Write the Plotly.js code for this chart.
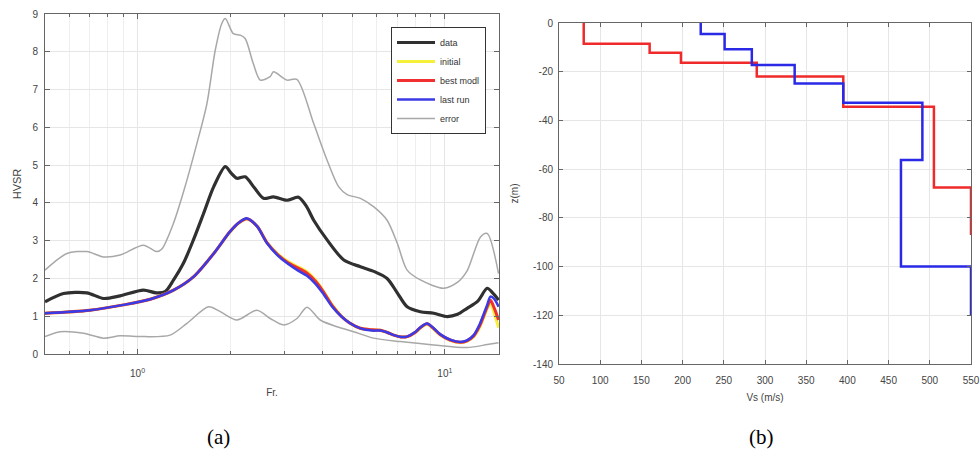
<!DOCTYPE html>
<html>
<head>
<meta charset="utf-8">
<script src="https://cdn.plot.ly/plotly-3.0.1.min.js"></script>
<style>
  html, body { margin: 0; padding: 0; background: #ffffff; }
  #chart { width: 980px; height: 462px; }
</style>
</head>
<body>
<div id="chart"></div>
<script>
// ---------- (a) HVSR curves ----------
const dataFreq = [0.50,0.574,0.684,0.775,0.878,1.045,1.15,1.23,1.31,1.41,1.52,1.64,1.77,1.93,2.02,2.105,2.24,2.40,2.571,2.77,3.065,3.342,3.55,3.743,4.138,4.689,5.311,5.9,6.486,7.0,7.537,8.322,9.2,10.17,11.0,11.81,12.8,13.73,14.3,14.95];
const dataHVSR = [1.38,1.60,1.62,1.47,1.54,1.69,1.62,1.65,1.96,2.40,3.02,3.72,4.43,4.96,4.78,4.65,4.69,4.40,4.12,4.16,4.07,4.15,3.90,3.54,3.02,2.49,2.31,2.18,2.00,1.62,1.25,1.12,1.08,0.99,1.05,1.21,1.40,1.74,1.62,1.43];

const errUpFreq = [0.50,0.589,0.684,0.775,0.878,1.045,1.156,1.20,1.309,1.41,1.56,1.682,1.79,1.88,1.93,2.05,2.16,2.24,2.38,2.508,2.70,2.77,3.065,3.30,3.743,4.138,4.51,4.81,5.311,5.86,6.486,7.0,7.537,8.322,9.91,11.0,11.81,13.06,13.73,14.95];
const errUpHVSR = [2.22,2.66,2.71,2.57,2.62,2.88,2.71,2.78,3.46,4.28,5.57,6.63,8.04,8.75,8.88,8.48,8.44,8.35,7.69,7.25,7.34,7.47,7.25,7.27,6.10,5.13,4.43,4.22,4.12,3.90,3.54,2.93,2.22,1.96,1.74,1.90,2.20,3.10,3.19,2.13];

const errLoFreq = [0.50,0.56,0.667,0.775,0.878,1.045,1.276,1.448,1.703,1.858,2.105,2.447,2.703,2.988,3.302,3.56,3.93,4.46,5.05,5.86,7.16,9.20,11.81,13.73,14.95];
const errLoHVSR = [0.46,0.59,0.55,0.42,0.48,0.46,0.50,0.81,1.25,1.12,0.90,1.16,0.94,0.77,0.94,1.24,0.90,0.72,0.59,0.42,0.33,0.24,0.17,0.25,0.30];

const fitFreq = [0.50,0.70,0.90,1.10,1.31,1.52,1.77,2.00,2.14,2.27,2.45,2.64,2.85,3.07,3.34,3.56,3.80,4.00,4.30,4.60,4.90,5.31,5.80,6.17,6.50,6.82,7.20,7.54,8.00,8.30,8.75,9.20,9.67,10.40,11.24,11.80,12.41,13.00,13.39,13.73,14.07,14.50,14.95];
const initialHVSR = [1.08,1.16,1.30,1.45,1.69,2.04,2.66,3.23,3.47,3.57,3.38,2.95,2.66,2.46,2.30,2.18,1.95,1.70,1.30,1.01,0.82,0.68,0.64,0.63,0.57,0.50,0.45,0.46,0.57,0.68,0.79,0.66,0.50,0.36,0.30,0.34,0.46,0.72,0.98,1.20,1.35,1.05,0.70];
const bestHVSR = [1.08,1.16,1.30,1.45,1.69,2.04,2.66,3.24,3.48,3.58,3.38,2.94,2.64,2.43,2.27,2.14,1.92,1.68,1.28,1.00,0.82,0.68,0.64,0.63,0.57,0.50,0.45,0.46,0.57,0.69,0.80,0.67,0.51,0.37,0.31,0.35,0.48,0.76,1.02,1.25,1.42,1.20,0.90];
const lastHVSR = [1.08,1.16,1.30,1.45,1.69,2.04,2.66,3.24,3.48,3.59,3.38,2.93,2.62,2.40,2.20,2.07,1.85,1.62,1.25,1.00,0.82,0.68,0.62,0.62,0.57,0.50,0.45,0.46,0.58,0.70,0.81,0.68,0.52,0.38,0.32,0.36,0.50,0.80,1.07,1.30,1.52,1.45,1.25];

const freqTickVals = [1, 10];
const freqTickText = ['10<sup>0</sup>', '10<sup>1</sup>'];
const freqMinorVals = [0.5,0.6,0.7,0.8,0.9,2,3,4,5,6,7,8,9];
const hvsrTickVals = [0,1,2,3,4,5,6,7,8,9];

// ---------- (b) Vs profiles ----------
const bestVs = [80,160,198,290,395,505,550];
const bestTop = [0,-8.5,-12.2,-16.3,-22,-34.4,-67.5];
const bestBottom = -87;
const lastVs = [222,251,284,336,395,491,465,550];
const lastTop = [0,-4.5,-10.8,-17.2,-24.8,-32.7,-56.2,-100];
const lastBottom = -120;

const vsTickVals = [50,100,150,200,250,300,350,400,450,500,550];
const zTickVals = [0,-20,-40,-60,-80,-100,-120,-140];
const zTickText = ['0','-20','-40','-60','-80','-100','-120','-140'];

// build step paths: vertical within a layer, horizontal at interfaces
function stepPath(vs, tops, bottom) {
  const xs = [], ys = [];
  for (let i = 0; i < vs.length; i++) {
    const b = (i < vs.length - 1) ? tops[i + 1] : bottom;
    xs.push(vs[i], vs[i]);
    ys.push(tops[i], b);
  }
  return {x: xs, y: ys};
}
const bestPath = stepPath(bestVs, bestTop, bestBottom);
const lastPath = stepPath(lastVs, lastTop, lastBottom);

const W = 980, H = 462;
const FAM = 'Liberation Sans, Arial, sans-serif';
const tickFont = {family: FAM, size: 10, color: '#444'};
const gridC = '#e6e6e6';
const lineC = '#666';

const traces = [
  {x: errUpFreq, y: errUpHVSR, name: 'error', legendgroup: 'err', legendrank: 5, mode: 'lines',
   line: {color: '#a8a8a8', width: 1.5, shape: 'spline', smoothing: 0.8}, xaxis: 'x', yaxis: 'y'},
  {x: errLoFreq, y: errLoHVSR, name: 'error', legendgroup: 'err', showlegend: false, mode: 'lines',
   line: {color: '#a8a8a8', width: 1.5, shape: 'spline', smoothing: 0.8}, xaxis: 'x', yaxis: 'y'},
  {x: dataFreq, y: dataHVSR, name: 'data', legendrank: 1, mode: 'lines',
   line: {color: '#303030', width: 3.2, shape: 'spline', smoothing: 0.8}, xaxis: 'x', yaxis: 'y'},
  {x: fitFreq, y: initialHVSR, name: 'initial', legendrank: 2, mode: 'lines',
   line: {color: '#f5f03c', width: 3, shape: 'spline', smoothing: 0.8}, xaxis: 'x', yaxis: 'y'},
  {x: fitFreq, y: bestHVSR, name: 'best modl', legendrank: 3, mode: 'lines',
   line: {color: '#f03030', width: 3, shape: 'spline', smoothing: 0.8}, xaxis: 'x', yaxis: 'y'},
  {x: fitFreq, y: lastHVSR, name: 'last run', legendrank: 4, mode: 'lines',
   line: {color: '#3a3ae6', width: 2.5, shape: 'spline', smoothing: 0.8}, xaxis: 'x', yaxis: 'y'},
  {x: bestPath.x, y: bestPath.y, name: 'best model Vs', showlegend: false, mode: 'lines',
   line: {color: '#f02a2a', width: 2.5}, xaxis: 'x2', yaxis: 'y2'},
  {x: lastPath.x, y: lastPath.y, name: 'last run Vs', showlegend: false, mode: 'lines',
   line: {color: '#2a2ae6', width: 2.5}, xaxis: 'x2', yaxis: 'y2'}
];

const layout = {
  width: W, height: H,
  margin: {l: 0, r: 0, t: 0, b: 0},
  paper_bgcolor: '#ffffff', plot_bgcolor: '#ffffff',
  font: tickFont,
  showlegend: true,
  legend: {x: 486 / W, xanchor: 'right', y: 1 - 27 / H, yanchor: 'top',
           bgcolor: '#ffffff', bordercolor: '#333', borderwidth: 1,
           font: {family: FAM, size: 9, color: '#333'},
           tracegroupgap: 0, itemwidth: 38},
  xaxis: {type: 'log', range: [Math.log10(0.5), Math.log10(15)], domain: [45 / W, 499 / W],
          anchor: 'y', tickvals: freqTickVals, ticktext: freqTickText, ticklabelstandoff: 10,
          ticks: 'inside', ticklen: 5, tickcolor: lineC, mirror: 'allticks', showline: true,
          linecolor: lineC, linewidth: 1, showgrid: true, gridcolor: gridC, zeroline: false,
          minor: {tickvals: freqMinorVals, ticks: 'inside', ticklen: 3, tickcolor: lineC,
                  showgrid: true, gridcolor: '#eeeeee'},
          tickfont: tickFont,
          title: {text: 'Fr.', font: {family: FAM, size: 10, color: '#444'}, standoff: 10}},
  yaxis: {range: [0, 9], domain: [1 - 354 / H, 1 - 14 / H], anchor: 'x',
          tickvals: hvsrTickVals, ticks: 'inside', ticklen: 5, tickcolor: lineC, ticklabelstandoff: 4,
          mirror: 'allticks', showline: true, linecolor: lineC, linewidth: 1,
          showgrid: true, gridcolor: gridC, zeroline: false, tickfont: tickFont,
          title: {text: 'HVSR', font: {family: FAM, size: 11, color: '#444'}, standoff: 8}},
  xaxis2: {range: [50, 550], domain: [559 / W, 971 / W], anchor: 'y2',
           tickvals: vsTickVals, ticks: 'inside', ticklen: 4, tickcolor: lineC, ticklabelstandoff: 7,
           mirror: 'allticks', showline: true, linecolor: lineC, linewidth: 1,
           showgrid: true, gridcolor: gridC, zeroline: false, tickfont: tickFont,
           title: {text: 'Vs (m/s)', font: {family: FAM, size: 10, color: '#444'}, standoff: 8}},
  yaxis2: {range: [-140, 0], domain: [1 - 364 / H, 1 - 23 / H], anchor: 'x2',
           tickvals: zTickVals, ticktext: zTickText, ticks: 'inside', ticklen: 4, tickcolor: lineC,
           ticklabelstandoff: 3,
           mirror: 'allticks', showline: true, linecolor: lineC, linewidth: 1,
           showgrid: true, gridcolor: gridC, zeroline: false, tickfont: tickFont,
           title: {text: 'z(m)', font: {family: FAM, size: 10, color: '#444'}, standoff: 12}},
  annotations: [
    {text: '(a)', xref: 'paper', yref: 'paper', x: 218 / W, y: 1 - 437 / H, xanchor: 'center', yanchor: 'middle',
     showarrow: false, font: {family: 'Liberation Serif, Times New Roman, serif', size: 21, color: '#000'}},
    {text: '(b)', xref: 'paper', yref: 'paper', x: 761 / W, y: 1 - 437 / H, xanchor: 'center', yanchor: 'middle',
     showarrow: false, font: {family: 'Liberation Serif, Times New Roman, serif', size: 21, color: '#000'}}
  ]
};

Plotly.newPlot('chart', traces, layout, {displayModeBar: false, staticPlot: true});
</script>
</body>
</html>
